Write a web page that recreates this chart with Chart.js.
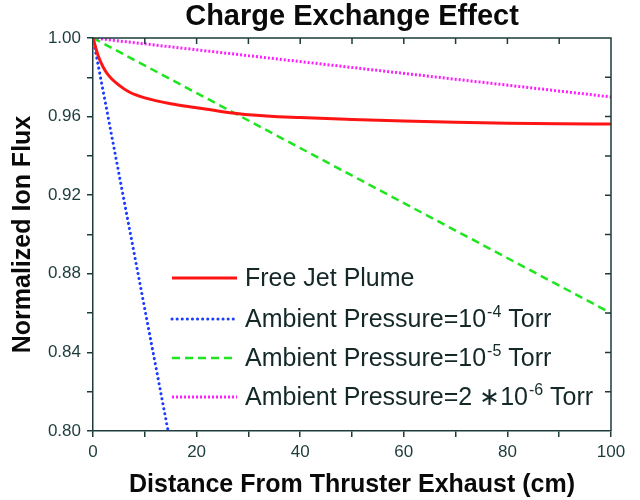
<!DOCTYPE html>
<html>
<head>
<meta charset="utf-8">
<script src="https://cdn.jsdelivr.net/npm/chart.js@4/dist/chart.umd.min.js"></script>
<style>
  html, body { margin: 0; padding: 0; background: #fff; }
  #wrap { width: 640px; height: 500px; }
</style>
</head>
<body>
<div id="wrap"><canvas id="chart" width="640" height="500"></canvas></div>
<script>
// data
const jetX = [0, 1, 2, 3, 5, 7, 10, 15, 20, 25, 30, 40, 50, 60, 70, 80, 90, 100];
const jetY = [1.0, 0.991, 0.985, 0.981, 0.976, 0.9725, 0.9695, 0.9665, 0.9645, 0.9625, 0.961, 0.9595, 0.9585, 0.9577, 0.9571, 0.9566, 0.9563, 0.9562];
const p4X = [0, 14.5];
const p4Y = [1.0, 0.80];
const p5X = [0, 100];
const p5Y = [1.0, 0.86];
const p6X = [0, 100];
const p6Y = [1.0, 0.97];

// legend text: [base, superscript, tail]
const legendLabels = [
  ['Free Jet Plume', '', ''],
  ['Ambient Pressure=10', '-4', ' Torr'],
  ['Ambient Pressure=10', '-5', ' Torr'],
  ['Ambient Pressure=2 \u221710', '-6', ' Torr'],
];

const AXIS = '#1d3b3b';
const FONT = "'Liberation Sans', Arial, sans-serif";

function pts(xs, ys) { return xs.map((x, i) => ({ x: x, y: ys[i] })); }

const colors = ['#ff1414', '#1a3cff', '#1ee61e', '#ff1eff'];
const dashes = [[], [0.1, 5], [8, 5], [2, 2]];
const widths = [3, 3, 2.5, 3];
const caps = ['butt', 'round', 'butt', 'butt'];

// frame: top/right axes with inward ticks, plus the legend
const framePlugin = {
  id: 'frame',
  afterDatasetsDraw(chart) {
    const { ctx, chartArea: a, scales } = chart;
    ctx.save();
    ctx.strokeStyle = AXIS;
    ctx.lineWidth = 1.5;
    ctx.beginPath();
    ctx.moveTo(a.left, a.top); ctx.lineTo(a.right, a.top); ctx.lineTo(a.right, a.bottom);
    for (let v = 10; v < 100; v += 10) {
      const x = scales.x.getPixelForValue(v);
      ctx.moveTo(x, a.top); ctx.lineTo(x, a.top + 6);
    }
    for (let v = 0.82; v < 0.995; v += 0.02) {
      const y = scales.y.getPixelForValue(v);
      ctx.moveTo(a.right, y); ctx.lineTo(a.right - 6, y);
    }
    ctx.stroke();

    // legend
    const rows = [278, 319, 358, 397];
    legendLabels.forEach((lab, i) => {
      const y = rows[i];
      ctx.beginPath();
      ctx.strokeStyle = colors[i];
      ctx.lineWidth = widths[i];
      ctx.lineCap = caps[i];
      ctx.setLineDash(dashes[i]);
      ctx.moveTo(172, y); ctx.lineTo(237, y);
      ctx.stroke();
      ctx.setLineDash([]);
      ctx.lineCap = 'butt';
      ctx.fillStyle = '#142828';
      ctx.textBaseline = 'middle';
      ctx.font = '25px ' + FONT;
      let x = 245;
      ctx.fillText(lab[0], x, y + 1);
      x += ctx.measureText(lab[0]).width;
      if (lab[1]) {
        ctx.font = '16px ' + FONT;
        ctx.fillText(lab[1], x + 1, y - 6);
        x += ctx.measureText(lab[1]).width + 1;
        ctx.font = '25px ' + FONT;
        ctx.fillText(lab[2], x, y + 1);
      }
    });
    ctx.restore();
  }
};

new Chart(document.getElementById('chart'), {
  type: 'line',
  data: {
    datasets: [
      { data: pts(jetX, jetY) },
      { data: pts(p4X, p4Y) },
      { data: pts(p5X, p5Y) },
      { data: pts(p6X, p6Y) },
    ].map((d, i) => Object.assign(d, {
      label: legendLabels[i].join(''),
      borderColor: colors[i],
      borderWidth: widths[i],
      borderDash: dashes[i],
      borderCapStyle: caps[i],
      pointRadius: 0,
      fill: false,
      cubicInterpolationMode: 'monotone',
    })),
  },
  options: {
    responsive: false,
    animation: false,
    layout: { padding: { top: 38, right: 29, left: 0, bottom: 0 } },
    plugins: {
      legend: { display: false },
      tooltip: { enabled: false },
    },
    scales: {
      x: {
        type: 'linear', min: 0, max: 100,
        afterFit(s) { s.height = 69; },
        ticks: {
          stepSize: 10, autoSkip: false, maxRotation: 0, padding: 5,
          color: AXIS, font: { family: FONT, size: 17 },
          callback: v => (v % 20 === 0 ? String(v) : ''),
        },
        grid: { drawOnChartArea: false, tickLength: 6, color: AXIS, lineWidth: 1.5 },
        border: { display: true, color: AXIS, width: 1.5 },
        title: {
          display: true, text: 'Distance From Thruster Exhaust (cm)', color: '#0a0a0a',
          font: { family: FONT, size: 25, weight: 'bold' }, padding: { top: 0, bottom: 0 },
        },
      },
      y: {
        min: 0.8, max: 1.0,
        afterFit(s) { s.width = 93; },
        ticks: {
          stepSize: 0.02, autoSkip: false, padding: 6,
          color: AXIS, font: { family: FONT, size: 17 },
          callback: v => (Math.round(v * 100) % 4 === 0 ? v.toFixed(2) : ''),
        },
        grid: { drawOnChartArea: false, tickLength: 6, color: AXIS, lineWidth: 1.5 },
        border: { display: true, color: AXIS, width: 1.5 },
        title: {
          display: true, text: 'Normalized Ion Flux', color: '#0a0a0a',
          font: { family: FONT, size: 25, weight: 'bold' }, padding: { top: 8, bottom: 0 },
        },
      },
    },
  },
  plugins: [framePlugin, {
    id: 'topTitle',
    afterDraw(chart) {
      const { ctx, chartArea: a } = chart;
      ctx.save();
      ctx.font = 'bold 29px ' + FONT;
      ctx.fillStyle = '#0a0a0a';
      ctx.textAlign = 'center';
      ctx.textBaseline = 'middle';
      ctx.fillText('Charge Exchange Effect', (a.left + a.right) / 2, 17);
      ctx.restore();
    }
  }],
});
</script>
</body>
</html>
